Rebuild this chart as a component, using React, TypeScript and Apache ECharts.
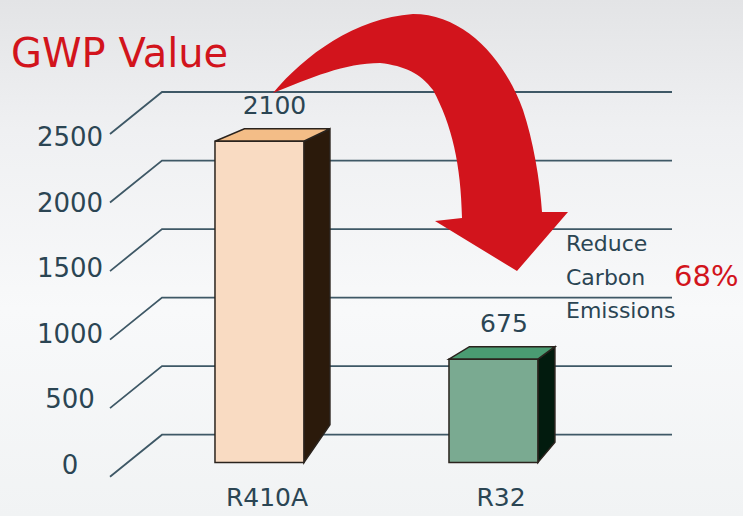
import React, { useEffect, useRef } from 'react';
import * as echarts from 'echarts';

// ---- data ----
const CATEGORIES = ['R410A', 'R32'];
const GWP_VALUES = [2100, 675];
const Y_TICKS = [0, 500, 1000, 1500, 2000, 2500];
const TITLE = 'GWP Value';
const NOTE_LINES = ['Reduce', 'Carbon', 'Emissions'];
const REDUCTION = '68%';

// ---- styles ----
const FONT = '"DejaVu Sans", "Noto Sans", sans-serif';
const INK = '#2b4553';
const RED = '#d2141c';
const GRID_LINE = '#3e5866';
const BAR_COLORS = [
  { front: '#f9dbc2', top: '#f3bd87', side: '#2b1a0b' },
  { front: '#7aaa91', top: '#4a9c72', side: '#021b0e' },
];
const ARROW_D =
  'M273 93 C305 55 355 18 413 14 C465 14 505 60 523 110 C533 140 540 180 542 212 L568 212 L517 271 L435 221 L462 218 C461 165 452 125 433 90 C420 73 405 66 380 63 C345 63 310 78 273 93 Z';

let registered = false;
function ensureShape() {
  if (registered) return;
  echarts.graphic.registerShape('gwpArrow', echarts.graphic.extendPath(ARROW_D, {}) as any);
  registered = true;
}

export default function App() {
  const ref = useRef<HTMLDivElement>(null);
  useEffect(() => {
    if (!ref.current) return;
    ensureShape();
    const chart = echarts.init(ref.current, undefined, { renderer: 'svg' });
    const option: any = {
      animation: false,
      backgroundColor: {
        type: 'linear', x: 0, y: 0, x2: 0, y2: 1,
        colorStops: [
          { offset: 0, color: '#e3e4e6' },
          { offset: 0.25, color: '#eff0f2' },
          { offset: 0.6, color: '#f8f9fa' },
          { offset: 1, color: '#f1f3f4' },
        ],
      },
      grid: [
        { left: 110, right: 500, top: 137, bottom: 51 },
        { left: 162, right: 71, top: 92, bottom: 81.3 },
        { left: 150, right: 125, top: 80, bottom: 53.5 },
      ],
      xAxis: [
        { gridIndex: 0, type: 'value', min: 0, max: 1, show: false },
        { gridIndex: 1, type: 'value', min: 0, max: 1, show: false },
        {
          gridIndex: 2, type: 'category', data: CATEGORIES,
          axisLine: { show: false }, axisTick: { show: false }, splitLine: { show: false },
          axisLabel: { color: INK, fontFamily: FONT, fontSize: 25, margin: 22 },
        },
      ],
      yAxis: [
        {
          gridIndex: 0, type: 'value', min: 0, max: 2500, interval: 500,
          axisLine: { show: false }, axisTick: { show: false }, splitLine: { show: false },
          axisLabel: {
            color: INK, fontFamily: FONT, fontSize: 26, align: 'center', margin: 40,
            formatter: (v: number) => String(v),
          },
        },
        { gridIndex: 1, type: 'value', min: 0, max: 2500, interval: 500, show: false },
        { gridIndex: 2, type: 'value', min: 0, max: 2500, show: false },
      ],
      graphic: [
        { type: 'gwpArrow', x: 0, y: 0, z: 20, style: { fill: RED } },
        {
          type: 'text', x: 11, y: 53, z: 30,
          style: { text: TITLE, fill: RED, fontFamily: FONT, fontSize: 40, align: 'left', verticalAlign: 'middle', textAlign: 'left', textVerticalAlign: 'middle' },
        },
        ...NOTE_LINES.map((t, i) => ({
          type: 'text', x: 566, y: 243.5 + i * 33.7, z: 30,
          style: { text: t, fill: INK, fontFamily: FONT, fontSize: 22, align: 'left', verticalAlign: 'middle', textAlign: 'left', textVerticalAlign: 'middle' },
        })),
        {
          type: 'text', x: 674, y: 276, z: 30,
          style: { text: REDUCTION, fill: RED, fontFamily: FONT, fontSize: 29, align: 'left', verticalAlign: 'middle', textAlign: 'left', textVerticalAlign: 'middle' },
        },
      ],
      series: [
        {
          type: 'custom', xAxisIndex: 1, yAxisIndex: 1, z: 1,
          data: Y_TICKS.map((v) => [0, v]),
          renderItem: (_p: any, api: any) => {
            const v = api.value(1);
            const p = api.coord([0, v]);
            const q = api.coord([1, v]);
            return {
              type: 'polyline',
              shape: { points: [[p[0] - 52, p[1] + 42], p, q] },
              style: { stroke: GRID_LINE, lineWidth: 1.8, fill: null },
            };
          },
        },
        {
          type: 'custom', xAxisIndex: 2, yAxisIndex: 2, z: 5,
          data: CATEGORIES.map((_c, i) => [i, GWP_VALUES[i]]),
          renderItem: (params: any, api: any) => {
            const idx = api.value(0);
            const val = api.value(1);
            const base = api.coord([idx, 0]);
            const topPt = api.coord([idx, val]);
            const band = api.size([1, 0])[0];
            const w = band * 0.38;
            const L = base[0] - w * 0.585;
            const R = L + w;
            const top = topPt[1];
            const bottom = base[1];
            const dxR = (980 - R) * 0.0385;
            const dxL = (980 - L) * 0.0385;
            const dyT = -12.5;
            const dyB = -(12 + 0.08 * (bottom - top));
            const c = BAR_COLORS[params.dataIndex % BAR_COLORS.length];
            const stroke = '#2a231d';
            return {
              type: 'group',
              children: [
                {
                  type: 'polygon',
                  shape: { points: [[R, top], [R + dxR, top + dyT], [R + dxR, bottom + dyB], [R, bottom]] },
                  style: { fill: c.side, stroke, lineWidth: 1.5 },
                },
                {
                  type: 'polygon',
                  shape: { points: [[L, top], [L + dxL, top + dyT], [R + dxR, top + dyT], [R, top]] },
                  style: { fill: c.top, stroke, lineWidth: 1.5 },
                },
                {
                  type: 'rect',
                  shape: { x: L, y: top, width: w, height: bottom - top },
                  style: { fill: c.front, stroke, lineWidth: 1.5 },
                },
                {
                  type: 'text',
                  x: (L + R + dxR) / 2 + 2,
                  y: top + dyT - 23,
                  style: { text: String(val), fill: INK, fontFamily: FONT, fontSize: 25, align: 'center', verticalAlign: 'middle' },
                },
              ],
            };
          },
        },
      ],
    };
    chart.setOption(option);
    return () => chart.dispose();
  }, []);
  return <div ref={ref} style={{ position: 'fixed', left: 0, top: 0, width: 743, height: 516 }} />;
}
